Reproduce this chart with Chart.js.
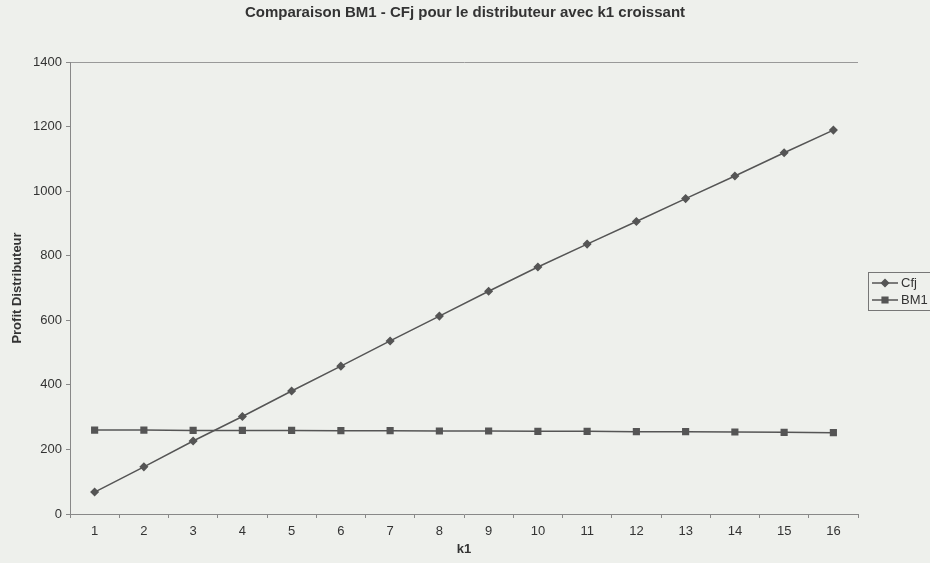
<!DOCTYPE html>
<html>
<head>
<meta charset="utf-8">
<script src="https://cdn.jsdelivr.net/npm/chart.js@4.4.1/dist/chart.umd.min.js"></script>
<style>
  html, body { margin: 0; padding: 0; background: #eef0ec; }
  #wrap { width: 930px; height: 563px; }
</style>
</head>
<body>
<div id="wrap"><canvas id="chart" width="930" height="563"></canvas></div>
<script>
// --- data ---
const k1Labels = ['1', '2', '3', '4', '5', '6', '7', '8', '9', '10', '11', '12', '13', '14', '15', '16'];
const cfjValues = [68, 146, 226, 302, 381, 458, 536, 613, 690, 765, 836, 906, 977, 1047, 1119, 1189];
const bm1Values = [260, 260, 259, 259, 259, 258, 258, 257, 257, 256, 256, 255, 255, 254, 253, 252];
const yTicks = [0, 200, 400, 600, 800, 1000, 1200, 1400];

const lineColor = '#555';
const textColor = '#333';
const font = 'Arial, "Liberation Sans", sans-serif';

// legend drawn by hand so it can have the boxed line+marker look
const boxedLegend = {
    id: 'boxedLegend',
    afterDraw(chart) {
        const ctx = chart.ctx;
        ctx.save();
        ctx.strokeStyle = '#777';
        ctx.lineWidth = 1;
        ctx.strokeRect(868.5, 272.5, 70, 38);

        const entries = [
            { label: 'Cfj', style: 'rectRot', r: 3.5, y: 283 },
            { label: 'BM1', style: 'rect', r: 4, y: 300 }
        ];
        entries.forEach(e => {
            ctx.strokeStyle = lineColor;
            ctx.lineWidth = 1.5;
            ctx.beginPath();
            ctx.moveTo(872, e.y);
            ctx.lineTo(898, e.y);
            ctx.stroke();
            ctx.fillStyle = lineColor;
            Chart.helpers.drawPoint(ctx, { pointStyle: e.style, radius: e.r, borderWidth: 1 }, 885, e.y);
            ctx.fillStyle = textColor;
            ctx.font = '13px ' + font;
            ctx.textBaseline = 'middle';
            ctx.fillText(e.label, 901, e.y);
        });
        ctx.restore();
    }
};

new Chart(document.getElementById('chart'), {
    type: 'line',
    data: {
        labels: k1Labels,
        datasets: [
            {
                label: 'Cfj',
                data: cfjValues,
                borderColor: lineColor,
                backgroundColor: lineColor,
                borderWidth: 1.5,
                pointStyle: 'rectRot',
                pointRadius: 3.5,
                tension: 0
            },
            {
                label: 'BM1',
                data: bm1Values,
                borderColor: lineColor,
                backgroundColor: lineColor,
                borderWidth: 1.5,
                pointStyle: 'rect',
                pointRadius: 4,
                tension: 0
            }
        ]
    },
    options: {
        responsive: false,
        animation: false,
        layout: { padding: 0 },
        plugins: {
            legend: { display: false },
            tooltip: { enabled: false },
            title: {
                display: true,
                text: 'Comparaison BM1 - CFj pour le distributeur avec k1 croissant',
                color: textColor,
                font: { family: font, size: 15, weight: 'bold' },
                padding: { top: 4, bottom: 40 }
            }
        },
        scales: {
            x: {
                type: 'category',
                offset: true,
                grid: {
                    offset: true,
                    color: 'transparent',
                    tickColor: '#888',
                    tickLength: 4
                },
                border: { color: '#888', width: 1 },
                ticks: {
                    color: textColor,
                    font: { family: font, size: 13 },
                    padding: 6,
                    maxRotation: 0
                },
                title: {
                    display: true,
                    text: 'k1',
                    color: textColor,
                    font: { family: font, size: 13, weight: 'bold' },
                    padding: { top: 2, bottom: 6 }
                },
                afterFit: scale => { scale.height = 49; }
            },
            y: {
                min: 0,
                max: 1400,
                afterBuildTicks: scale => { scale.ticks = yTicks.map(v => ({ value: v })); },
                grid: {
                    color: c => (c.tick && c.tick.value === 1400) ? '#999' : 'transparent',
                    tickColor: '#888',
                    tickLength: 4
                },
                border: { color: '#888', width: 1 },
                ticks: {
                    color: textColor,
                    font: { family: font, size: 13 },
                    padding: 4,
                    callback: v => String(v)
                },
                title: {
                    display: true,
                    text: 'Profit Distributeur',
                    color: textColor,
                    font: { family: font, size: 13, weight: 'bold' },
                    padding: { top: 10, bottom: 0 }
                },
                afterFit: scale => { scale.width = 70; }
            },
            // empty right-hand band that leaves room for the legend box
            yRight: {
                position: 'right',
                min: 0,
                max: 1400,
                grid: { display: false, drawTicks: false },
                border: { display: false },
                ticks: { display: false },
                afterFit: scale => { scale.width = 72; }
            }
        }
    },
    plugins: [boxedLegend]
});
</script>
</body>
</html>
